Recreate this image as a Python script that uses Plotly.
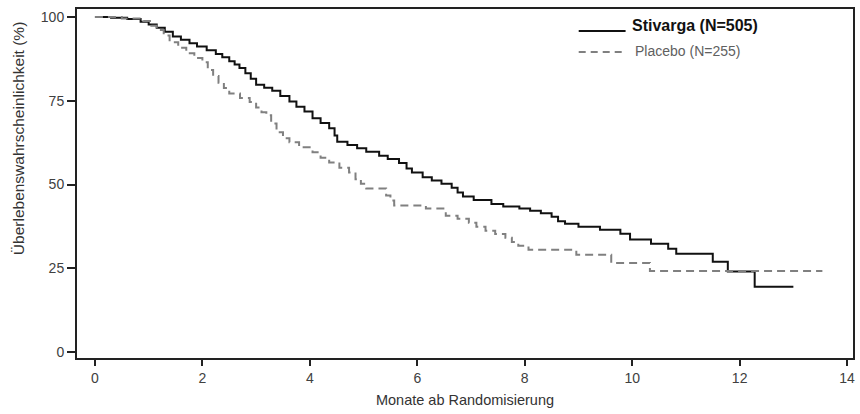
import plotly.graph_objects as go

# Kaplan-Meier step data
stivarga_t = [0, 0.3, 0.6, 0.85, 1.0, 1.15, 1.3, 1.45, 1.6, 1.76, 1.9, 2.08, 2.25, 2.37, 2.5, 2.6,
              2.69, 2.8, 2.9, 3.0, 3.15, 3.3, 3.45, 3.62, 3.75, 3.9, 4.05, 4.2, 4.36, 4.46, 4.51,
              4.7, 4.88, 5.05, 5.29, 5.45, 5.66, 5.8, 5.9, 6.1, 6.27, 6.45, 6.64, 6.75, 6.85,
              7.05, 7.38, 7.6, 7.9, 8.1, 8.3, 8.5, 8.62, 8.75, 9.0, 9.4, 9.78, 9.96, 10.35,
              10.67, 10.82, 11.5, 11.78, 12.28, 13.0]
stivarga_s = [100, 99.8, 99.4, 98.6, 97.8, 96.8, 95.6, 94.2, 93.2, 92.2, 91.2, 90.1, 89.0, 88.0,
              86.8, 85.8, 84.8, 83.2, 81.6, 79.8, 78.9, 78.0, 76.4, 74.8, 73.2, 71.8, 69.8, 68.4,
              66.8, 64.6, 62.8, 61.8, 60.8, 59.8, 58.6, 57.6, 56.4, 54.8, 53.6, 52.2, 51.2, 50.2,
              49.0, 47.6, 46.4, 45.4, 44.2, 43.4, 42.8, 42.2, 41.4, 40.4, 39.0, 38.3, 37.4, 36.5,
              35.3, 33.6, 32.3, 30.8, 29.3, 26.9, 24.0, 19.5, 19.5]

placebo_t = [0, 0.5, 0.9, 1.05, 1.15, 1.28, 1.39, 1.55, 1.7, 1.85, 2.0, 2.1, 2.2, 2.3, 2.4, 2.5,
             2.7, 2.88, 3.0, 3.1, 3.19, 3.28, 3.38, 3.5, 3.62, 3.8, 4.05, 4.2, 4.36, 4.55, 4.73,
             4.85, 4.95, 5.05, 5.42, 5.5, 5.57, 6.16, 6.53, 6.75, 6.96, 7.1, 7.27, 7.45, 7.64,
             7.76, 7.88, 8.07, 8.96, 9.61, 10.33, 13.54]
placebo_s = [100, 99.6, 98.8, 97.4, 96.1, 94.5, 92.5, 90.8, 89.2, 87.8, 86.5, 84.2, 82.4, 80.4,
             78.8, 77.2, 75.8, 74.6, 73.0, 71.6, 70.7, 68.2, 65.6, 63.8, 62.6, 61.1, 59.6, 58.0,
             56.6, 55.0, 53.6, 51.6, 50.2, 48.8, 46.7, 45.2, 43.7, 42.8, 40.7, 39.8, 38.6, 37.4,
             36.2, 35.2, 34.1, 32.8, 31.7, 30.5, 29.0, 26.6, 24.2, 24.2]

x_ticks = [0, 2, 4, 6, 8, 10, 12, 14]
y_ticks = [0, 25, 50, 75, 100]
series_names = ["Stivarga (N=505)", "Placebo (N=255)"]

W, H = 860, 414
L, R, T, B = 77, 5, 9, 56
PW, PH = W - L - R, H - T - B

def px(xp):
    return (xp - L) / PW

def py(yp):
    return (H - B - yp) / PH

FONT = "Liberation Sans, Arial, sans-serif"

fig = go.Figure()
fig.add_trace(go.Scatter(x=stivarga_t, y=stivarga_s, mode="lines", line_shape="hv",
                         line=dict(color="#111111", width=2), name=series_names[0]))
fig.add_trace(go.Scatter(x=placebo_t, y=placebo_s, mode="lines", line_shape="hv",
                         line=dict(color="#808080", width=2, dash="8px,5px"), name=series_names[1]))

# manual legend
fig.add_shape(type="line", xref="paper", yref="paper", x0=px(580), x1=px(627), y0=py(31), y1=py(31),
              line=dict(color="#111111", width=2))
fig.add_shape(type="line", xref="paper", yref="paper", x0=px(580), x1=px(625), y0=py(52), y1=py(52),
              line=dict(color="#808080", width=2, dash="7px,5px"))
fig.add_annotation(xref="paper", yref="paper", x=px(631), y=py(25), xanchor="left", yanchor="middle",
                   text="<b>" + series_names[0] + "</b>", showarrow=False,
                   font=dict(family=FONT, size=16, color="#111111"))
fig.add_annotation(xref="paper", yref="paper", x=px(634), y=py(51), xanchor="left", yanchor="middle",
                   text=series_names[1], showarrow=False,
                   font=dict(family=FONT, size=14, color="#606060"))

# y-axis title as annotation (offset upward like reference)
fig.add_annotation(xref="paper", yref="paper", x=px(18), y=py(139), xanchor="center", yanchor="middle",
                   text="Überlebenswahrscheinlichkeit (%)", textangle=-90, showarrow=False,
                   font=dict(family=FONT, size=15.5, color="#333333"))

fig.update_layout(
    width=W, height=H,
    margin=dict(l=L, r=R, t=T, b=B),
    paper_bgcolor="white", plot_bgcolor="white",
    showlegend=False,
    font=dict(family=FONT, size=14, color="#404040"),
    xaxis=dict(range=[-0.334, 14.11], tickvals=x_ticks, ticks="outside", ticklen=6, tickwidth=1.5,
               tickcolor="#222222", showline=True, linecolor="#222222", linewidth=2, mirror=True,
               showgrid=False, zeroline=False, tickfont=dict(size=14, color="#404040"),
               title=dict(text="Monate ab Randomisierung", font=dict(size=14.5, color="#333333"), standoff=10)),
    yaxis=dict(range=[-1.8, 102.4], tickvals=y_ticks, ticks="outside", ticklen=8, tickwidth=1.5,
               tickcolor="#222222", showline=True, linecolor="#222222", linewidth=2, mirror=True,
               showgrid=False, zeroline=False, tickfont=dict(size=14, color="#404040")),
)

fig.write_html("out.html", config={"displayModeBar": False},
               post_script="document.body.style.margin='0';document.body.style.overflow='hidden';")
